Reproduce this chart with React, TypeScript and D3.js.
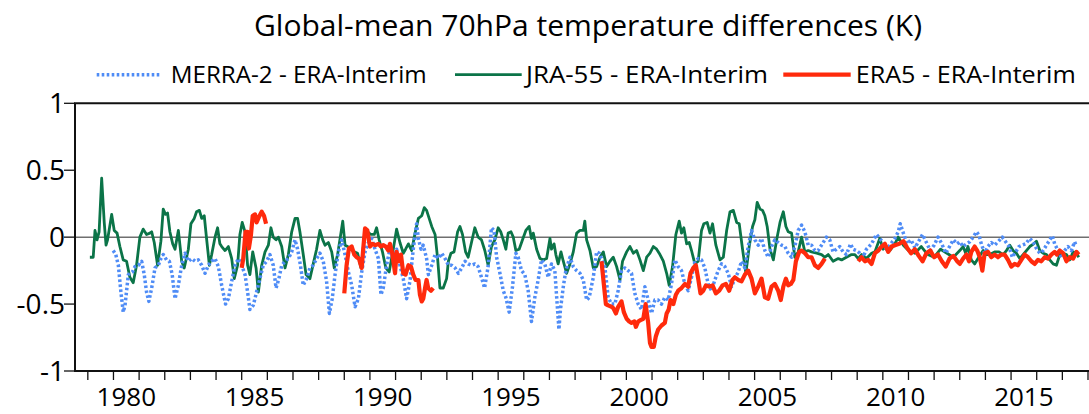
import React, { useEffect, useRef } from "react";
import * as d3 from "d3";

// [decimal year, K]; null marks a gap in the record
type Pt = [number, number | null];

const yTicks = [1, 0.5, 0, -0.5, -1];
const yTickLabels = ["1", "0.5", "0", "-0.5", "-1"];
const xLabelYears = [1980, 1985, 1990, 1995, 2000, 2005, 2010, 2015];

const seriesNames = ["MERRA-2 - ERA-Interim", "JRA-55 - ERA-Interim", "ERA5 - ERA-Interim"];
const seriesColors = ["#4f8cf6", "#0b7448", "#ff2a0c"];

const jra55: Pt[] = [
  [1979.08, -0.15], [1979.21, -0.15], [1979.28, 0.05], [1979.36, -0.02], [1979.44, 0.04], [1979.54, 0.44],
  [1979.64, 0.11], [1979.71, -0.06], [1979.77, -0.02], [1979.93, 0.17], [1980.03, 0.05], [1980.14, 0.03],
  [1980.25, -0.07], [1980.38, -0.17], [1980.51, -0.18], [1980.64, -0.3], [1980.77, -0.34], [1980.9, -0.21],
  [1981.03, 0.0], [1981.16, 0.06], [1981.29, 0.02], [1981.42, 0.03], [1981.49, 0.04], [1981.59, -0.04],
  [1981.72, -0.21], [1981.85, -0.03], [1981.94, 0.21], [1982.03, 0.17], [1982.11, 0.18], [1982.2, 0.04],
  [1982.31, -0.05], [1982.4, -0.09], [1982.53, 0.05], [1982.66, -0.18], [1982.76, -0.23], [1982.92, -0.09],
  [1983.02, 0.1], [1983.15, 0.14], [1983.24, 0.19], [1983.35, 0.2], [1983.44, 0.14], [1983.54, 0.16],
  [1983.63, -0.01], [1983.74, -0.21], [1983.83, -0.13], [1983.96, 0.0], [1984.06, 0.07], [1984.15, -0.05],
  [1984.22, -0.07], [1984.35, -0.1], [1984.48, -0.07], [1984.61, -0.16], [1984.71, -0.31], [1984.84, -0.21],
  [1984.93, 0.02], [1985.02, 0.11], [1985.13, 0.04], [1985.23, -0.21], [1985.32, -0.28], [1985.43, -0.11],
  [1985.56, -0.23], [1985.65, -0.41], [1985.78, -0.21], [1985.91, -0.11], [1986.04, -0.06], [1986.14, 0.07],
  [1986.23, 0.0], [1986.34, -0.02], [1986.43, 0.0], [1986.56, -0.07], [1986.69, -0.23], [1986.82, -0.13],
  [1986.95, 0.04], [1987.08, 0.14], [1987.18, 0.14], [1987.27, 0.04], [1987.4, -0.13], [1987.51, -0.28],
  [1987.66, -0.31], [1987.79, -0.2], [1987.92, -0.09], [1988.05, 0.05], [1988.16, -0.02], [1988.25, -0.06],
  [1988.38, -0.04], [1988.51, -0.11], [1988.61, -0.23], [1988.74, -0.13], [1988.83, -0.02], [1988.94, 0.12],
  [1989.03, -0.06], [1989.13, -0.07], [1989.26, -0.09], [1989.39, -0.11], [1989.52, -0.12], [1989.65, -0.23],
  [1989.78, -0.01], [1989.91, 0.04], [1990.04, 0.02], [1990.17, 0.02], [1990.26, 0.07], [1990.36, -0.02],
  [1990.49, -0.11], [1990.62, -0.23], [1990.75, -0.26], [1990.91, -0.09], [1991.04, 0.06], [1991.17, -0.04],
  [1991.3, -0.12], [1991.39, -0.09], [1991.5, -0.05], [1991.63, -0.1], [1991.76, 0.03], [1991.89, 0.14],
  [1992.02, 0.16], [1992.12, 0.22], [1992.21, 0.2], [1992.31, 0.14], [1992.41, 0.08], [1992.54, 0.02],
  [1992.64, -0.16], [1992.73, -0.38], [1992.86, -0.38], [1992.99, -0.31], [1993.06, -0.18], [1993.16, -0.12],
  [1993.28, -0.11], [1993.42, 0.04], [1993.51, 0.08], [1993.61, 0.02], [1993.73, -0.11], [1993.83, -0.15],
  [1993.96, -0.04], [1994.09, 0.07], [1994.22, 0.0], [1994.35, -0.02], [1994.48, -0.1], [1994.61, -0.21],
  [1994.74, -0.07], [1994.87, -0.02], [1995.0, 0.07], [1995.1, 0.04], [1995.2, -0.02], [1995.3, -0.09],
  [1995.39, 0.03], [1995.5, 0.04], [1995.59, 0.0], [1995.69, -0.1], [1995.82, -0.09], [1995.95, -0.02],
  [1996.08, 0.05], [1996.21, 0.08], [1996.3, -0.01], [1996.37, 0.03], [1996.5, -0.09], [1996.63, -0.16],
  [1996.76, -0.17], [1996.89, -0.16], [1997.02, -0.01], [1997.08, -0.09], [1997.18, -0.05], [1997.25, -0.13],
  [1997.34, -0.2], [1997.45, -0.11], [1997.54, -0.18], [1997.67, -0.27], [1997.8, -0.2], [1997.93, -0.11],
  [1998.06, 0.03], [1998.19, 0.05], [1998.32, 0.05], [1998.38, 0.12], [1998.45, -0.02], [1998.58, -0.1],
  [1998.71, -0.23], [1998.84, -0.22], [1998.97, -0.15], [1999.1, -0.11], [1999.23, -0.22], [1999.36, -0.18],
  [1999.49, -0.15], [1999.62, -0.22], [1999.75, -0.32], [1999.85, -0.18], [2000.01, -0.11], [2000.14, -0.07],
  [2000.27, -0.12], [2000.4, -0.1], [2000.53, -0.17], [2000.66, -0.25], [2000.79, -0.15], [2000.92, -0.12],
  [2001.05, -0.07], [2001.18, -0.09], [2001.31, -0.13], [2001.44, -0.18], [2001.57, -0.27], [2001.67, -0.36],
  [2001.8, -0.22], [2001.93, 0.02], [2002.06, 0.12], [2002.15, 0.03], [2002.24, 0.07], [2002.35, -0.05],
  [2002.45, -0.04], [2002.54, -0.1], [2002.67, -0.2], [2002.8, -0.18], [2002.93, 0.05], [2003.02, 0.1],
  [2003.15, 0.11], [2003.26, 0.03], [2003.36, 0.1], [2003.49, -0.06], [2003.65, -0.17], [2003.78, -0.15],
  [2003.91, 0.05], [2004.04, 0.19], [2004.17, 0.2], [2004.3, 0.11], [2004.4, 0.1], [2004.53, -0.09],
  [2004.66, -0.27], [2004.79, -0.07], [2004.92, 0.08], [2005.01, 0.13], [2005.1, 0.26], [2005.21, 0.21],
  [2005.31, 0.2], [2005.4, 0.16], [2005.49, 0.08], [2005.6, -0.09], [2005.73, -0.17], [2005.86, -0.02],
  [2005.99, 0.11], [2006.12, 0.19], [2006.22, 0.08], [2006.31, 0.04], [2006.44, 0.03], [2006.57, -0.15],
  [2006.7, -0.11], [2006.83, 0.0], [2006.96, -0.11], [2007.09, -0.1], [2007.22, -0.11], [2007.42, -0.12],
  [2007.61, -0.13], [2007.74, -0.15], [2007.87, -0.13], [2008.06, -0.18], [2008.26, -0.16], [2008.39, -0.17],
  [2008.58, -0.15], [2008.78, -0.13], [2008.91, -0.13], [2009.04, -0.16], [2009.17, -0.13], [2009.36, -0.16],
  [2009.56, -0.12], [2009.69, -0.11], [2009.88, -0.01], [2010.01, -0.09], [2010.14, -0.07], [2010.27, -0.1],
  [2010.47, -0.05], [2010.6, 0.0], [2010.8, -0.06], [2011.0, -0.1], [2011.25, -0.12], [2011.5, -0.07],
  [2011.75, -0.13], [2012.0, -0.15], [2012.25, -0.09], [2012.5, -0.12], [2012.75, -0.15], [2013.0, -0.1],
  [2013.13, -0.07], [2013.23, -0.12], [2013.32, -0.07], [2013.45, -0.17], [2013.58, -0.2], [2013.71, -0.16],
  [2013.91, -0.1], [2014.04, -0.13], [2014.17, -0.13], [2014.36, -0.11], [2014.53, -0.11], [2014.69, -0.13],
  [2014.82, -0.1], [2014.95, -0.06], [2015.08, -0.1], [2015.21, -0.12], [2015.34, -0.16], [2015.47, -0.13],
  [2015.6, -0.1], [2015.73, -0.07], [2015.88, -0.05], [2015.99, -0.03], [2016.12, -0.1], [2016.25, -0.12],
  [2016.38, -0.13], [2016.51, -0.17], [2016.64, -0.2], [2016.77, -0.21], [2016.9, -0.13], [2017.03, -0.12],
  [2017.16, -0.13], [2017.29, -0.17], [2017.42, -0.11], [2017.55, -0.12], [2017.64, -0.15],
];

const merra2: Pt[] = [
  [1979.99, -0.1], [1980.09, -0.13], [1980.19, -0.21], [1980.29, -0.41], [1980.38, -0.56], [1980.45, -0.51],
  [1980.58, -0.28], [1980.74, -0.26], [1980.84, -0.22], [1980.97, -0.21], [1981.1, -0.18], [1981.2, -0.28],
  [1981.29, -0.41], [1981.38, -0.48], [1981.49, -0.38], [1981.62, -0.23], [1981.75, -0.21], [1981.85, -0.16],
  [1981.94, -0.13], [1982.07, -0.17], [1982.18, -0.18], [1982.29, -0.28], [1982.4, -0.46], [1982.53, -0.36],
  [1982.66, -0.21], [1982.79, -0.12], [1982.92, -0.18], [1983.05, -0.16], [1983.18, -0.18], [1983.31, -0.17],
  [1983.44, -0.21], [1983.57, -0.27], [1983.7, -0.21], [1983.83, -0.18], [1983.96, -0.16], [1984.09, -0.22],
  [1984.22, -0.36], [1984.37, -0.5], [1984.48, -0.46], [1984.61, -0.33], [1984.74, -0.21], [1984.87, -0.16],
  [1985.0, -0.21], [1985.13, -0.28], [1985.23, -0.41], [1985.32, -0.54], [1985.45, -0.51], [1985.58, -0.41],
  [1985.71, -0.31], [1985.84, -0.21], [1985.97, -0.18], [1986.1, -0.13], [1986.23, -0.21], [1986.34, -0.38],
  [1986.45, -0.31], [1986.56, -0.21], [1986.69, -0.18], [1986.82, -0.16], [1986.95, -0.11], [1987.08, -0.02],
  [1987.18, -0.09], [1987.29, -0.21], [1987.4, -0.36], [1987.53, -0.31], [1987.66, -0.23], [1987.79, -0.21],
  [1987.92, -0.16], [1988.05, -0.12], [1988.18, -0.18], [1988.31, -0.33], [1988.42, -0.57], [1988.53, -0.46],
  [1988.64, -0.28], [1988.77, -0.11], [1988.9, -0.02], [1989.03, -0.13], [1989.16, -0.26], [1989.29, -0.36],
  [1989.42, -0.52], [1989.55, -0.46], [1989.68, -0.26], [1989.81, -0.11], [1989.94, -0.04], [1990.07, -0.01],
  [1990.2, -0.09], [1990.33, -0.16], [1990.43, -0.43], [1990.52, -0.38], [1990.65, -0.21], [1990.78, -0.09],
  [1990.91, -0.16], [1991.04, -0.09], [1991.17, -0.21], [1991.3, -0.31], [1991.43, -0.46], [1991.56, -0.33],
  [1991.69, -0.09], [1991.82, 0.1], [1991.89, -0.01], [1991.99, -0.09], [1992.08, -0.06], [1992.21, -0.16],
  [1992.28, -0.28], [1992.41, -0.21], [1992.54, -0.13], [1992.67, -0.16], [1992.8, -0.12], [1992.93, -0.16],
  [1993.06, -0.21], [1993.19, -0.21], [1993.32, -0.23], [1993.45, -0.27], [1993.58, -0.23], [1993.71, -0.18],
  [1993.83, -0.2], [1993.96, -0.21], [1994.09, -0.2], [1994.22, -0.22], [1994.35, -0.3], [1994.47, -0.38],
  [1994.61, -0.22], [1994.74, 0.07], [1994.84, 0.05], [1994.94, -0.15], [1995.07, -0.27], [1995.2, -0.4],
  [1995.3, -0.45], [1995.43, -0.56], [1995.56, -0.37], [1995.69, -0.12], [1995.78, -0.15], [1995.91, -0.25],
  [1996.04, -0.28], [1996.17, -0.4], [1996.3, -0.63], [1996.43, -0.45], [1996.56, -0.32], [1996.69, -0.17],
  [1996.82, -0.2], [1996.95, -0.3], [1997.08, -0.2], [1997.21, -0.25], [1997.37, -0.69], [1997.43, -0.54],
  [1997.54, -0.37], [1997.64, -0.25], [1997.8, -0.15], [1997.93, -0.22], [1998.06, -0.25], [1998.19, -0.27],
  [1998.32, -0.32], [1998.45, -0.47], [1998.55, -0.45], [1998.71, -0.3], [1998.84, -0.11], [1998.94, -0.12],
  [1999.03, -0.16], [1999.16, -0.22], [1999.29, -0.45], [1999.42, -0.5], [1999.55, -0.5], [1999.68, -0.4],
  [1999.81, -0.25], [1999.94, -0.23], [2000.07, -0.25], [2000.2, -0.27], [2000.33, -0.42], [2000.46, -0.5],
  [2000.59, -0.54], [2000.72, -0.37], [2000.85, -0.47], [2000.98, -0.57], [2001.11, -0.47], [2001.24, -0.47],
  [2001.37, -0.5], [2001.5, -0.45], [2001.63, -0.47], [2001.76, -0.35], [2001.89, -0.17], [2002.02, -0.22],
  [2002.15, -0.25], [2002.28, -0.35], [2002.41, -0.4], [2002.54, -0.3], [2002.67, -0.18], [2002.8, -0.16],
  [2002.93, -0.17], [2003.06, -0.23], [2003.19, -0.35], [2003.32, -0.4], [2003.45, -0.32], [2003.58, -0.25],
  [2003.71, -0.2], [2003.84, -0.22], [2003.97, -0.27], [2004.1, -0.37], [2004.23, -0.31], [2004.36, -0.26],
  [2004.49, -0.18], [2004.62, -0.23], [2004.75, -0.07], [2004.88, 0.05], [2005.01, -0.02], [2005.14, -0.06],
  [2005.27, -0.01], [2005.4, -0.1], [2005.53, -0.15], [2005.66, -0.07], [2005.79, -0.02], [2005.92, -0.04],
  [2006.05, -0.06], [2006.18, -0.07], [2006.31, -0.12], [2006.44, -0.15], [2006.57, -0.07], [2006.7, 0.05],
  [2006.83, 0.09], [2006.96, 0.04], [2007.09, -0.06], [2007.22, -0.06], [2007.35, -0.1], [2007.48, -0.1],
  [2007.61, -0.06], [2007.8, 0.0], [2007.93, -0.02], [2008.06, -0.11], [2008.19, -0.09], [2008.32, -0.07],
  [2008.45, -0.11], [2008.58, -0.13], [2008.74, -0.05], [2008.84, -0.09], [2008.97, -0.1], [2009.1, -0.12],
  [2009.23, -0.15], [2009.36, -0.09], [2009.56, -0.05], [2009.75, 0.02], [2009.88, -0.01], [2010.01, -0.04],
  [2010.14, -0.09], [2010.27, -0.06], [2010.47, -0.01], [2010.6, 0.04], [2010.68, 0.1], [2010.8, 0.03],
  [2010.95, -0.05], [2011.1, -0.02], [2011.25, -0.08], [2011.4, -0.03], [2011.55, 0.02], [2011.7, -0.04],
  [2011.85, -0.1], [2012.0, -0.06], [2012.15, 0.0], [2012.3, -0.05], [2012.45, -0.12], [2012.6, -0.07],
  [2012.75, -0.02], [2012.9, -0.05], [2013.0, -0.035], [2013.13, -0.07], [2013.26, -0.05], [2013.39, -0.035],
  [2013.52, 0.0], [2013.65, 0.04], [2013.75, 0.015], [2013.84, -0.05], [2013.97, -0.12], [2014.1, -0.07],
  [2014.23, -0.04], [2014.36, -0.06], [2014.49, -0.035], [2014.66, 0.0], [2014.79, -0.035], [2014.92, -0.07],
  [2015.05, -0.15], [2015.18, -0.11], [2015.31, -0.07], [2015.44, -0.06], [2015.57, -0.05], [2015.73, -0.01],
  [2015.86, -0.035], [2015.99, -0.085], [2016.12, -0.12], [2016.25, -0.1], [2016.38, -0.06], [2016.51, -0.02],
  [2016.61, 0.01], [2016.7, -0.05], [2016.83, -0.1], [2016.96, -0.15], [2017.09, -0.1], [2017.22, -0.07],
  [2017.35, -0.1], [2017.48, -0.035], [2017.55, -0.07],
];

const era5: Pt[] = [
  [1985.0, -0.23], [1985.06, -0.16], [1985.15, 0.04], [1985.23, 0.04], [1985.28, -0.085], [1985.36, 0.015],
  [1985.43, 0.16], [1985.52, 0.17], [1985.58, 0.11], [1985.67, 0.15], [1985.78, 0.19], [1985.87, 0.16],
  [1985.95, 0.1], [1986.0, null],
  [1989.0, -0.42], [1989.09, -0.21], [1989.18, -0.085], [1989.29, -0.07], [1989.39, -0.13], [1989.48, -0.15],
  [1989.57, -0.16], [1989.68, -0.23], [1989.74, -0.085], [1989.81, 0.065], [1989.9, 0.05], [1990.0, -0.07],
  [1990.1, -0.05], [1990.2, -0.06], [1990.33, -0.05], [1990.43, -0.07], [1990.52, -0.06], [1990.62, -0.07],
  [1990.72, -0.1], [1990.78, -0.05], [1990.87, -0.12], [1990.98, -0.27], [1991.04, -0.11], [1991.13, -0.18],
  [1991.21, -0.13], [1991.3, -0.27], [1991.39, -0.28], [1991.5, -0.21], [1991.6, -0.22], [1991.69, -0.28],
  [1991.78, -0.32], [1991.89, -0.32], [1991.95, -0.43], [1992.02, -0.48], [1992.08, -0.46], [1992.15, -0.38],
  [1992.21, -0.32], [1992.27, -0.38], [1992.38, -0.4], [1992.47, -0.38], [1992.5, null],
  [1999.03, -0.18], [1999.12, -0.35], [1999.2, -0.5], [1999.29, -0.51], [1999.42, -0.52], [1999.49, -0.53],
  [1999.59, -0.57], [1999.68, -0.52], [1999.81, -0.48], [1999.9, -0.56], [2000.01, -0.61], [2000.11, -0.63],
  [2000.2, -0.64], [2000.31, -0.63], [2000.37, -0.67], [2000.46, -0.63], [2000.55, -0.62], [2000.66, -0.61],
  [2000.75, -0.5], [2000.85, -0.64], [2000.92, -0.79], [2000.98, -0.82], [2001.07, -0.82], [2001.15, -0.74],
  [2001.24, -0.69], [2001.37, -0.66], [2001.5, -0.64], [2001.57, -0.57], [2001.65, -0.54], [2001.72, -0.47],
  [2001.83, -0.5], [2001.93, -0.43], [2002.02, -0.4], [2002.15, -0.38], [2002.28, -0.35], [2002.41, -0.37],
  [2002.5, -0.27], [2002.61, -0.23], [2002.71, -0.21], [2002.8, -0.31], [2002.89, -0.42], [2003.0, -0.4],
  [2003.1, -0.36], [2003.23, -0.37], [2003.36, -0.36], [2003.49, -0.42], [2003.62, -0.4], [2003.75, -0.36],
  [2003.88, -0.35], [2004.01, -0.4], [2004.14, -0.32], [2004.23, -0.3], [2004.36, -0.32], [2004.49, -0.33],
  [2004.62, -0.28], [2004.75, -0.25], [2004.88, -0.31], [2005.01, -0.42], [2005.14, -0.37], [2005.27, -0.31],
  [2005.4, -0.45], [2005.53, -0.46], [2005.66, -0.37], [2005.79, -0.35], [2005.92, -0.4], [2006.02, -0.47],
  [2006.12, -0.37], [2006.22, -0.31], [2006.31, -0.36], [2006.41, -0.35], [2006.51, -0.32], [2006.61, -0.18],
  [2006.74, -0.11], [2006.83, -0.1], [2006.96, -0.12], [2007.09, -0.15], [2007.22, -0.15], [2007.35, -0.21],
  [2007.48, -0.23], [2007.61, -0.2], [2007.74, -0.16], [2007.8, null],
  [2009.04, -0.18], [2009.17, -0.15], [2009.3, -0.18], [2009.43, -0.17], [2009.56, -0.2], [2009.69, -0.12],
  [2009.82, -0.1], [2009.95, -0.07], [2010.08, -0.05], [2010.21, -0.11], [2010.34, -0.07], [2010.47, -0.06],
  [2010.64, -0.05], [2010.8, -0.03], [2010.95, -0.08], [2011.1, -0.12], [2011.25, -0.09], [2011.4, -0.14],
  [2011.55, -0.18], [2011.7, -0.12], [2011.85, -0.1], [2012.0, -0.15], [2012.15, -0.13], [2012.3, -0.18],
  [2012.45, -0.22], [2012.6, -0.16], [2012.75, -0.14], [2012.9, -0.18], [2013.0, -0.2], [2013.13, -0.16],
  [2013.26, -0.13], [2013.36, -0.18], [2013.45, -0.11], [2013.58, -0.07], [2013.68, -0.1], [2013.78, -0.15],
  [2013.88, -0.25], [2013.97, -0.12], [2014.1, -0.11], [2014.23, -0.15], [2014.36, -0.13], [2014.49, -0.15],
  [2014.62, -0.13], [2014.75, -0.13], [2014.88, -0.17], [2015.01, -0.22], [2015.14, -0.2], [2015.27, -0.21],
  [2015.4, -0.17], [2015.53, -0.13], [2015.66, -0.15], [2015.79, -0.18], [2015.92, -0.2], [2016.05, -0.17],
  [2016.18, -0.18], [2016.31, -0.15], [2016.44, -0.16], [2016.57, -0.13], [2016.7, -0.11], [2016.79, -0.13],
  [2016.9, -0.1], [2017.03, -0.12], [2017.16, -0.18], [2017.29, -0.15], [2017.42, -0.16], [2017.55, -0.11],
  [2017.64, -0.13],
];

const W = 1089;
const H = 414;
const FONT = "'Open Sans', 'Noto Sans', sans-serif";

const App = () => {
  const svgRef = useRef<SVGSVGElement>(null);

  useEffect(() => {
    if (!svgRef.current) return;
    const svg = d3.select(svgRef.current);
    svg.selectAll("*").remove();

    const x = d3.scaleLinear().domain([1978.5, 2018]).range([75, 1088]);
    const y = d3.scaleLinear().domain([-1, 1]).range([371, 103.3]);

    // title
    svg
      .append("text")
      .attr("x", 588)
      .attr("y", 36)
      .attr("text-anchor", "middle")
      .attr("font-family", FONT)
      .attr("font-size", 30)
      .attr("textLength", 668)
      .attr("lengthAdjust", "spacingAndGlyphs")
      .text("Global-mean 70hPa temperature differences (K)");

    // zero line
    svg
      .append("line")
      .attr("x1", x(1978.5))
      .attr("x2", W)
      .attr("y1", y(0))
      .attr("y2", y(0))
      .attr("stroke", "#6f6f6f")
      .attr("stroke-width", 1.5);

    const line = d3
      .line<Pt>()
      .defined((d) => d[1] !== null)
      .x((d) => x(d[0]))
      .y((d) => y(d[1] as number));

    const plot = svg.append("g").attr("fill", "none").attr("stroke-linejoin", "round");

    plot
      .append("path")
      .attr("d", line(jra55))
      .attr("stroke", seriesColors[1])
      .attr("stroke-width", 2.8);

    plot
      .append("path")
      .attr("d", line(merra2))
      .attr("stroke", seriesColors[0])
      .attr("stroke-width", 3.5)
      .attr("stroke-dasharray", "2.6,2.4");

    plot
      .append("path")
      .attr("d", line(era5))
      .attr("stroke", seriesColors[2])
      .attr("stroke-width", 4.2);

    // frame: left, top, bottom
    const frame = svg.append("g").attr("stroke", "#111").attr("stroke-width", 2);
    frame.append("line").attr("x1", x(1978.5)).attr("x2", x(1978.5)).attr("y1", y(1)).attr("y2", y(-1));
    frame.append("line").attr("x1", x(1978.5) - 1).attr("x2", W).attr("y1", y(1)).attr("y2", y(1));
    frame.append("line").attr("x1", x(1978.5) - 1).attr("x2", W).attr("y1", y(-1)).attr("y2", y(-1));

    // y ticks
    const yAxis = svg.append("g");
    yTicks.forEach((v, i) => {
      yAxis
        .append("line")
        .attr("x1", 64)
        .attr("x2", x(1978.5))
        .attr("y1", y(v))
        .attr("y2", y(v))
        .attr("stroke", "#111")
        .attr("stroke-width", 1.3);
      yAxis
        .append("text")
        .attr("x", 65)
        .attr("y", y(v))
        .attr("dy", "0.36em")
        .attr("text-anchor", "end")
        .attr("font-family", FONT)
        .attr("font-size", 28)
        .text(yTickLabels[i]);
    });

    // x ticks every year, labels centred in the year
    const xAxis = svg.append("g");
    d3.range(1979, 2019).forEach((yr) => {
      xAxis
        .append("line")
        .attr("x1", x(yr))
        .attr("x2", x(yr))
        .attr("y1", y(-1))
        .attr("y2", y(-1) + 9)
        .attr("stroke", "#111")
        .attr("stroke-width", 1.3);
    });
    xLabelYears.forEach((yr) => {
      xAxis
        .append("text")
        .attr("x", x(yr + 0.5))
        .attr("y", 406)
        .attr("text-anchor", "middle")
        .attr("font-family", FONT)
        .attr("font-size", 26)
        .text(String(yr));
    });

    // legend
    const legendItems = [
      { x1: 96.7, x2: 161.7, tx: 170.7, tw: 256, width: 3.5, dash: "2.6,2.4" },
      { x1: 455, x2: 521.7, tx: 526, tw: 242, width: 2.8, dash: null },
      { x1: 783.3, x2: 850.7, tx: 855.7, tw: 220, width: 4.2, dash: null },
    ];
    const legend = svg.append("g");
    legendItems.forEach((it, i) => {
      const l = legend
        .append("line")
        .attr("x1", it.x1)
        .attr("x2", it.x2)
        .attr("y1", 74.7)
        .attr("y2", 74.7)
        .attr("stroke", seriesColors[i])
        .attr("stroke-width", it.width);
      if (it.dash) l.attr("stroke-dasharray", it.dash);
      legend
        .append("text")
        .attr("x", it.tx)
        .attr("y", 83)
        .attr("font-family", FONT)
        .attr("font-size", 24.5)
        .attr("textLength", it.tw)
        .attr("lengthAdjust", "spacingAndGlyphs")
        .text(seriesNames[i]);
    });
  }, []);

  return (
    <svg
      ref={svgRef}
      width={W}
      height={H}
      style={{ position: "absolute", left: 0, top: 0, background: "#fff" }}
    />
  );
};

export default App;
